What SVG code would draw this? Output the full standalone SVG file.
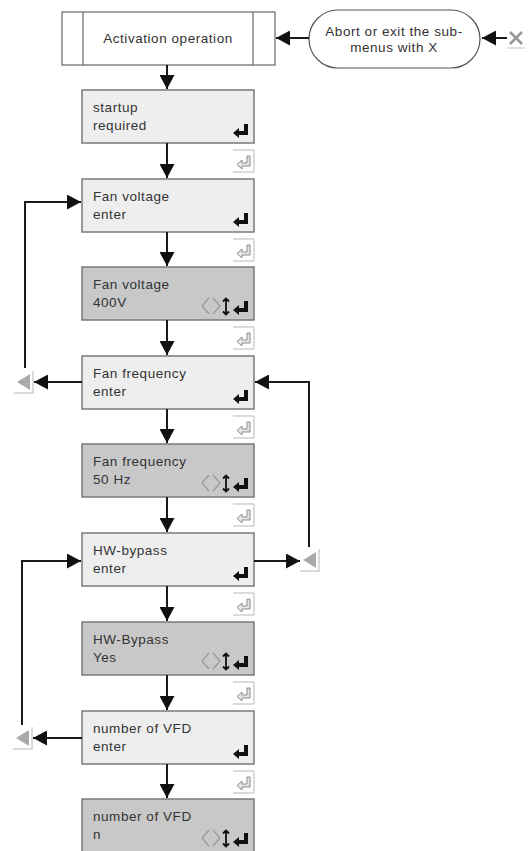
<svg xmlns="http://www.w3.org/2000/svg" width="528" height="851" viewBox="0 0 528 851">
<style>
text{font-family:"Liberation Sans",Arial,sans-serif;font-size:13.5px;letter-spacing:0.55px;fill:#333}
.light{fill:#eeeeee;stroke:#7a7a7a;stroke-width:1.5}
.dark{fill:#c8c8c8;stroke:#7a7a7a;stroke-width:1.5}
.con{fill:none;stroke:#1a1a1a;stroke-width:2}
.frame{fill:none;stroke:#d0d0d0;stroke-width:1.5}
.gicon{fill:#e6e6e6;stroke:#8a8a8a;stroke-width:1}
.tri{fill:#aaaaaa}
</style>
<defs>
<marker id="ah" markerUnits="userSpaceOnUse" markerWidth="15" markerHeight="15" refX="14" refY="7.5" orient="auto">
<path d="M0,0 L14,7.5 L0,15 z" fill="#111"/>
</marker>
<g id="ent">
<path d="M11,0 H15 V11 H6 V14 L0,9 L6,4 V7 H11 Z" fill="#111"/>
</g>
<g id="gent">
<path d="M0,0 H21 M21,0 V22 M0,22 H21" class="frame"/>
<path d="M14,6 H17 V16 H9 V19 L4,14.5 L9,10 V13 H14 Z" class="gicon"/>
</g>
<g id="sel">
<path d="M7,0 L0,8 L7,16 M11,0 L18,8 L11,16" fill="none" stroke="#999" stroke-width="1.3"/>
<path d="M24,1 V16 M21,3.5 L24,0.5 L27,3.5 M21,13.5 L24,16.5 L27,13.5" fill="none" stroke="#111" stroke-width="1.8"/>
</g>
<g id="tri">
<path d="M0,22 H19 V0" class="frame"/>
<path d="M3,11 L16,3 V19 Z" class="tri"/>
</g>
</defs>

<g id="activation">
<rect x="62" y="12" width="213" height="53" fill="#fff" stroke="#666" stroke-width="1.2"/>
<line x1="83" y1="12" x2="83" y2="65" stroke="#666" stroke-width="1.2"/>
<line x1="253" y1="12" x2="253" y2="65" stroke="#666" stroke-width="1.2"/>
<text x="168" y="43" text-anchor="middle">Activation operation</text>
</g>

<g id="abort">
<rect x="309" y="10" width="171" height="58" rx="29" fill="#fff" stroke="#555" stroke-width="1.2"/>
<text x="394" y="36" text-anchor="middle">Abort or exit the sub-</text>
<text x="394" y="52" text-anchor="middle">menus with X</text>
</g>

<g id="xkey">
<path d="M510,32 L522,44 M522,32 L510,44" stroke="#999" stroke-width="2.6"/>
<line x1="507" y1="48" x2="525" y2="48" stroke="#ccc" stroke-width="1.2"/>
</g>

<g id="n1">
<rect x="82" y="90" width="172" height="53" class="light"/>
<text x="93" y="112">startup</text>
<text x="93" y="130">required</text>
<use href="#ent" x="233" y="124"/>
</g>
<g id="n2">
<rect x="82" y="179" width="172" height="53" class="light"/>
<text x="93" y="201">Fan voltage</text>
<text x="93" y="219">enter</text>
<use href="#ent" x="233" y="213"/>
</g>
<g id="n3">
<rect x="82" y="267" width="172" height="53" class="dark"/>
<text x="93" y="289">Fan voltage</text>
<text x="93" y="307">400V</text>
<use href="#sel" x="202" y="298"/>
<use href="#ent" x="233" y="301"/>
</g>
<g id="n4">
<rect x="82" y="356" width="172" height="53" class="light"/>
<text x="93" y="378">Fan frequency</text>
<text x="93" y="396">enter</text>
<use href="#ent" x="233" y="390"/>
</g>
<g id="n5">
<rect x="82" y="444" width="172" height="53" class="dark"/>
<text x="93" y="466">Fan frequency</text>
<text x="93" y="484">50 Hz</text>
<use href="#sel" x="202" y="475"/>
<use href="#ent" x="233" y="478"/>
</g>
<g id="n6">
<rect x="82" y="533" width="172" height="53" class="light"/>
<text x="93" y="555">HW-bypass</text>
<text x="93" y="573">enter</text>
<use href="#ent" x="233" y="567"/>
</g>
<g id="n7">
<rect x="82" y="622" width="172" height="53" class="dark"/>
<text x="93" y="644">HW-Bypass</text>
<text x="93" y="662">Yes</text>
<use href="#sel" x="202" y="653"/>
<use href="#ent" x="233" y="656"/>
</g>
<g id="n8">
<rect x="82" y="711" width="172" height="53" class="light"/>
<text x="93" y="733">number of VFD</text>
<text x="93" y="751">enter</text>
<use href="#ent" x="233" y="745"/>
</g>
<g id="n9">
<rect x="82" y="799" width="172" height="53" class="dark"/>
<text x="93" y="821">number of VFD</text>
<text x="93" y="839">n</text>
<use href="#sel" x="202" y="830"/>
<use href="#ent" x="233" y="833"/>
</g>

<g id="keys">
<use href="#gent" x="233" y="150"/>
<use href="#gent" x="233" y="239"/>
<use href="#gent" x="233" y="327"/>
<use href="#gent" x="233" y="416"/>
<use href="#gent" x="233" y="504"/>
<use href="#gent" x="233" y="593"/>
<use href="#gent" x="233" y="682"/>
<use href="#gent" x="233" y="771"/>
<use href="#tri" x="14" y="371"/>
<use href="#tri" x="300" y="549"/>
<use href="#tri" x="13" y="727"/>
</g>

<g id="connectors">
<path d="M309,38 H276" class="con" marker-end="url(#ah)"/>
<path d="M507,38 H482" class="con" marker-end="url(#ah)"/>
<path d="M167,65 V89" class="con" marker-end="url(#ah)"/>
<path d="M167,143 V178" class="con" marker-end="url(#ah)"/>
<path d="M167,232 V266" class="con" marker-end="url(#ah)"/>
<path d="M167,320 V355" class="con" marker-end="url(#ah)"/>
<path d="M167,409 V443" class="con" marker-end="url(#ah)"/>
<path d="M167,497 V532" class="con" marker-end="url(#ah)"/>
<path d="M167,586 V621" class="con" marker-end="url(#ah)"/>
<path d="M167,675 V710" class="con" marker-end="url(#ah)"/>
<path d="M167,764 V798" class="con" marker-end="url(#ah)"/>
<path d="M25,368 V202 H81" class="con" marker-end="url(#ah)"/>
<path d="M82,382 H34" class="con" marker-end="url(#ah)"/>
<path d="M309,547 V382 H255" class="con" marker-end="url(#ah)"/>
<path d="M254,561 H300" class="con" marker-end="url(#ah)"/>
<path d="M22,725 V561 H81" class="con" marker-end="url(#ah)"/>
<path d="M82,738 H33" class="con" marker-end="url(#ah)"/>
</g>
</svg>
